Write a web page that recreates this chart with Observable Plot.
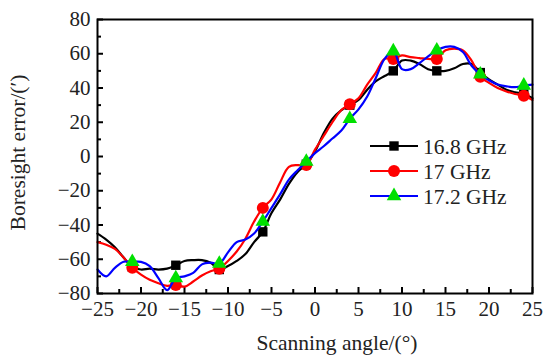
<!DOCTYPE html>
<html><head><meta charset="utf-8">
<script src="https://cdn.jsdelivr.net/npm/d3@7"></script>
<script src="https://cdn.jsdelivr.net/npm/@observablehq/plot@0.6"></script>
<style>
body{margin:0;background:#fff;}
#chart{position:relative;width:543px;height:356px;font-family:"Liberation Serif","Times New Roman",serif;}
#legend{position:absolute;left:0;top:0;}
</style></head><body><div id="chart"></div>
<script>
// Scanning angle grid (degrees)
const angles = [-25,-24,-23,-22,-21,-20,-19,-18,-17,-16,-15,-14,-13,-12,-11,-10,-9,-8,-7,-6,-5,-4,-3,-2,-1,0,1,2,3,4,5,6,7,8,9,10,11,12,13,14,15,16,17,18,19,20,21,22,23,24,25];
// Angles where symbols are drawn
const markerAngles = [-21,-16,-11,-6,-1,4,9,14,19,24];
// Boresight error (′) for each frequency
const err168 = [-45,-48.5,-53,-59,-64.5,-66,-65.5,-66,-65.5,-63.5,-61,-60.5,-60.5,-62,-66,-64,-61,-57,-50,-44,-33,-25,-16,-9,-4.5,3,13.5,22,27,30,33,39,44,47,50,56,56,54,51,50,50,51.5,54,54,49,45,42,39,37.5,36.5,34];
const err17 = [-50,-51.5,-54,-59,-65,-69,-72,-74,-75.5,-75,-76,-73,-69.5,-67,-65.5,-61,-55.5,-48,-38,-30,-25,-15,-6,-5,-5,4,12,20,27,30.5,34,42,49,57,57,59,58,57.5,57,57,62,63,62,56,46.5,43,40,38,36.5,35.5,33];
const err172 = [-66,-70,-65,-61.5,-61.5,-61.5,-64,-71,-78,-71,-70,-68,-63,-62,-62.5,-56,-50,-48.5,-45,-38,-30,-22,-13.5,-8,-3,2,6,10.5,15,22,27.5,35,46,57,61.5,51,51,54.5,58.5,62,64,64,61,53,48,44.5,42,41,40.5,41.5,42];
const seriesNames = ["16.8 GHz","17 GHz","17.2 GHz"];
const seriesColors = ["#000000","#ff0000","#0000ff"];
const markerFills = ["#000000","#ff0000","#00e000"];
const markerSymbols = ["square","circle","triangle"];
const markerRadii = [5.3,6,5.4];
const xMajor = [-25,-20,-15,-10,-5,0,5,10,15,20,25];
const xMinor = [-22.5,-17.5,-12.5,-7.5,-2.5,2.5,7.5,12.5,17.5,22.5];
const yMajor = [-80,-60,-40,-20,0,20,40,60,80];
const yMinor = [-70,-50,-30,-10,10,30,50,70];
const xTitle = "Scanning angle/(°)";
const yTitle = "Boresight error/(′)";

const allSeries = [err168, err17, err172];
const rows = [];
allSeries.forEach((vals, s) => angles.forEach((a, i) => rows.push({series: seriesNames[s], angle: a, err: vals[i]})));

const seriesMarks = [];
seriesNames.forEach((name, s) => {
  const data = rows.filter(d => d.series === name);
  seriesMarks.push(Plot.line(data, {x: "angle", y: "err", stroke: seriesColors[s], strokeWidth: 2.2, curve: "catmull-rom"}));
  seriesMarks.push(Plot.dot(data.filter(d => markerAngles.includes(d.angle)), {x: "angle", y: "err", symbol: () => markerSymbols[s], r: markerRadii[s], fill: markerFills[s], stroke: "none"}));
});

const plot = Plot.plot({
  width: 543, height: 356,
  marginLeft: 97, marginRight: 11, marginTop: 19, marginBottom: 63,
  style: {fontFamily: "'Liberation Serif', 'Times New Roman', serif", fontSize: "21px", color: "black", background: "white"},
  x: {domain: [-25, 25]},
  y: {domain: [-80, 80]},
  symbol: {type: "identity"},
  marks: [
    Plot.axisX(xMajor, {tickSize: -6, tickPadding: 14, strokeWidth: 2, label: null, fill: "#222"}),
    Plot.axisX(xMinor, {tickSize: -4, tickFormat: () => "", strokeWidth: 2, label: null}),
    Plot.axisY(yMajor, {tickSize: -6, tickPadding: 13, strokeWidth: 2, label: null, fill: "#222"}),
    Plot.axisY(yMinor, {tickSize: -4, tickFormat: () => "", strokeWidth: 2, label: null}),
    ...seriesMarks,
    Plot.frame({stroke: "black", strokeWidth: 2}),
    Plot.text([xTitle], {text: d => d, frameAnchor: "bottom", textAnchor: "middle", dx: 22, dy: 50, lineAnchor: "middle", fontSize: 21.5, fill: "#222"}),
    Plot.text([yTitle], {text: d => d, frameAnchor: "middle", textAnchor: "middle", rotate: -90, dx: -297, dy: -4, lineAnchor: "middle", fontSize: 21.5, fill: "#222"})
  ]
});
const chart = document.getElementById("chart");
chart.appendChild(plot);

// Legend overlay
const leg = d3.select(chart).append("svg").attr("id", "legend").attr("width", 543).attr("height", 356);
const rowY = [146, 171, 196];
const symMap = {square: d3.symbolSquare, circle: d3.symbolCircle, triangle: d3.symbolTriangle};
seriesNames.forEach((name, s) => {
  const g = leg.append("g").attr("transform", `translate(0,${rowY[s]})`);
  g.append("line").attr("x1", 370).attr("x2", 418).attr("y1", 0).attr("y2", 0).attr("stroke", seriesColors[s]).attr("stroke-width", 2.2);
  g.append("path").attr("transform", "translate(394,0)").attr("d", d3.symbol(symMap[markerSymbols[s]], Math.PI * markerRadii[s] ** 2)()).attr("fill", markerFills[s]);
  g.append("text").attr("x", 423).attr("y", 0).attr("dy", "0.35em").attr("font-family", "'Liberation Serif', serif").attr("font-size", 21.5).attr("fill", "#222").text(name);
});
</script>
</body></html>
